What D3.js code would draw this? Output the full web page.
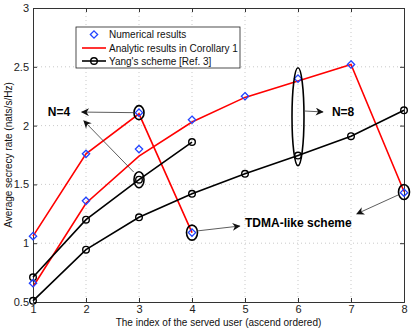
<!DOCTYPE html>
<html><head><meta charset="utf-8">
<script src="https://cdn.jsdelivr.net/npm/d3@7/dist/d3.min.js"></script>
<style>body{margin:0;background:#fff}svg{display:block}text{font-family:"Liberation Sans",Arial,sans-serif}</style>
</head><body><svg id="c" width="415" height="330"></svg>
<script>
const users4 = [1, 2, 3, 4];
const analytic4 = [1.06, 1.76, 2.10, 1.09];
const numerical4 = [1.06, 1.76, 2.11, 1.09];
const yang4 = [0.71, 1.20, 1.54, 1.86];
const users8 = [1, 2, 3, 4, 5, 6, 7, 8];
const analytic8 = [0.63, 1.34, 1.74, 2.03, 2.24, 2.38, 2.52, 1.44];
const numerical8 = [0.66, 1.36, 1.80, 2.05, 2.25, 2.40, 2.52, 1.43];
const yang8 = [0.51, 0.945, 1.22, 1.42, 1.59, 1.745, 1.91, 2.13];
const xTicks = [1, 2, 3, 4, 5, 6, 7, 8];
const yTicks = [0.5, 1, 1.5, 2, 2.5, 3];
const legendLabels = ["Numerical results", "Analytic results in Corollary 1", "Yang's scheme [Ref. 3]"];
const ellipses = [[3, 2.11, 5, 7], [3, 1.54, 5, 8], [4, 1.09, 5.5, 7.5], [6, 2.075, 6, 49], [8, 1.435, 5.5, 7.5]];
const arrows = [[2.92, 2.11, 1.92, 2.115], [2.9, 1.605, 1.96, 2.04], [6.13, 2.124, 6.47, 2.116], [4.09, 1.104, 4.9, 1.146], [7.89, 1.41, 7.11, 1.25]];
const labels = [["N=4", 1.28, 2.115], ["N=8", 6.64, 2.12], ["TDMA-like scheme", 5.0, 1.17]];

const svg = d3.select("#c");
const L = 33, R = 404, T = 8, B = 302;
const x = d3.scaleLinear().domain([1, 8]).range([L, R]);
const y = d3.scaleLinear().domain([0.5, 3]).range([B, T]);

// grid
const g = svg.append("g");
g.selectAll(".gx").data(xTicks.slice(1, -1)).join("line")
  .attr("x1", d => x(d)).attr("x2", d => x(d)).attr("y1", T).attr("y2", B)
  .attr("stroke", "#bbb").attr("stroke-width", 0.8).attr("stroke-dasharray", "1,3");
g.selectAll(".gy").data(yTicks.slice(1, -1)).join("line")
  .attr("x1", L).attr("x2", R).attr("y1", d => y(d)).attr("y2", d => y(d))
  .attr("stroke", "#bbb").attr("stroke-width", 0.8).attr("stroke-dasharray", "1,3");

// axes
const xa = svg.append("g").attr("transform", `translate(0,${B})`)
  .call(d3.axisBottom(x).tickValues(xTicks).tickSize(-4).tickPadding(3).tickFormat(d3.format("d")));
const ya = svg.append("g").attr("transform", `translate(${L},0)`)
  .call(d3.axisLeft(y).tickValues(yTicks).tickSize(-4).tickPadding(4).tickFormat(d => String(d)));
const xt = svg.append("g").attr("transform", `translate(0,${T})`)
  .call(d3.axisTop(x).tickValues(xTicks).tickSize(-4).tickFormat(""));
const yr = svg.append("g").attr("transform", `translate(${R},0)`)
  .call(d3.axisRight(y).tickValues(yTicks).tickSize(-4).tickFormat(""));
[xa, ya, xt, yr].forEach(a => {
  a.selectAll("path,line").attr("stroke", "#333").attr("stroke-width", 1);
  a.selectAll("text").attr("font-size", 11).attr("fill", "#222").attr("font-family", "Liberation Sans, Arial, sans-serif");
});

// lines
const line = (xs, ys) => d3.line().x((d, i) => x(xs[i])).y(d => y(d))(ys);
const drawLine = (xs, ys, col) => svg.append("path").attr("d", line(xs, ys))
  .attr("fill", "none").attr("stroke", col).attr("stroke-width", 1.6);
drawLine(users4, analytic4, "#f00");
drawLine(users8, analytic8, "#f00");
drawLine(users4, yang4, "#000");
drawLine(users8, yang8, "#000");

const circles = (xs, ys) => svg.append("g").selectAll("circle").data(ys).join("circle")
  .attr("cx", (d, i) => x(xs[i])).attr("cy", d => y(d)).attr("r", 3.3)
  .attr("fill", "none").attr("stroke", "#000").attr("stroke-width", 1.4);
circles(users4, yang4); circles(users8, yang8);

const diamond = d3.symbol().type(d3.symbolDiamond2).size(34);
const diamonds = (xs, ys) => svg.append("g").selectAll("path").data(ys).join("path")
  .attr("d", diamond).attr("transform", (d, i) => `translate(${x(xs[i])},${y(d)})`)
  .attr("fill", "none").attr("stroke", "#2244ff").attr("stroke-width", 1.3);
diamonds(users4, numerical4); diamonds(users8, numerical8);

// ellipses
svg.append("g").selectAll("ellipse").data(ellipses).join("ellipse")
  .attr("cx", d => x(d[0])).attr("cy", d => y(d[1])).attr("rx", d => d[2]).attr("ry", d => d[3])
  .attr("fill", "none").attr("stroke", "#000").attr("stroke-width", 1.6);

// arrows
svg.append("defs").append("marker").attr("id", "ah").attr("viewBox", "0 0 10 10")
  .attr("refX", 9).attr("refY", 5).attr("markerWidth", 10).attr("markerHeight", 8)
  .attr("markerUnits", "userSpaceOnUse").attr("orient", "auto")
  .append("path").attr("d", "M0,0 L10,5 L0,10 L3,5 Z").attr("fill", "#111");
svg.append("g").selectAll("line").data(arrows).join("line")
  .attr("x1", d => x(d[0])).attr("y1", d => y(d[1])).attr("x2", d => x(d[2])).attr("y2", d => y(d[3]))
  .attr("stroke", "#333").attr("stroke-width", 0.8).attr("marker-end", "url(#ah)");

svg.append("g").selectAll("text").data(labels).join("text")
  .attr("x", d => x(d[1])).attr("y", d => y(d[2])).attr("dy", "0.35em")
  .attr("font-size", 12).attr("font-weight", "bold").attr("fill", "#000").text(d => d[0]);

// legend
const lg = svg.append("g");
lg.append("rect").attr("x", 76).attr("y", 27).attr("width", 164).attr("height", 41)
  .attr("fill", "#fff").attr("stroke", "#222").attr("stroke-width", 0.8);
const ly = [34.5, 48, 61];
lg.append("path").attr("d", diamond).attr("transform", `translate(94,${ly[0]})`)
  .attr("fill", "none").attr("stroke", "#2244ff").attr("stroke-width", 1.3);
lg.append("line").attr("x1", 82).attr("x2", 106).attr("y1", ly[1]).attr("y2", ly[1])
  .attr("stroke", "#f00").attr("stroke-width", 1.6);
lg.append("line").attr("x1", 82).attr("x2", 106).attr("y1", ly[2]).attr("y2", ly[2])
  .attr("stroke", "#000").attr("stroke-width", 1.6);
lg.append("circle").attr("cx", 94).attr("cy", ly[2]).attr("r", 3.3)
  .attr("fill", "none").attr("stroke", "#000").attr("stroke-width", 1.4);
lg.selectAll("text").data(legendLabels).join("text")
  .attr("x", 109).attr("y", (d, i) => ly[i]).attr("dy", "0.35em")
  .attr("font-size", 10).attr("fill", "#111").text(d => d);

// axis titles
svg.append("text").attr("x", (L + R) / 2).attr("y", 326).attr("text-anchor", "middle")
  .attr("font-size", 10).attr("fill", "#111").text("The index of the served user (ascend ordered)");
svg.append("text").attr("transform", `translate(12,${(T + B) / 2}) rotate(-90)`).attr("text-anchor", "middle")
  .attr("font-size", 10).attr("fill", "#111").text("Average secrecy rate (nats/s/Hz)");
</script></body></html>
